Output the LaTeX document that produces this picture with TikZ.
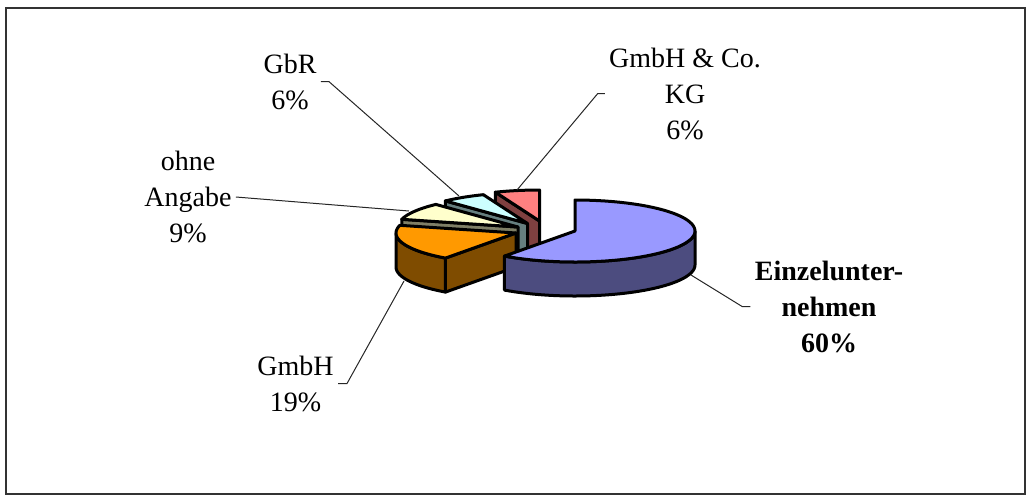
\documentclass[tikz,border=0pt]{standalone}
\usepackage{fontspec}
\setmainfont{Liberation Serif}

\definecolor{einzeltop}{RGB}{153,153,255}
\definecolor{einzelside}{RGB}{76,76,127}
\definecolor{gmbhtop}{RGB}{255,153,0}
\definecolor{gmbhside}{RGB}{127,76,0}
\definecolor{ohnetop}{RGB}{255,255,204}
\definecolor{ohneside}{RGB}{127,127,102}
\definecolor{gbrtop}{RGB}{204,255,255}
\definecolor{gbrside}{RGB}{102,127,127}
\definecolor{kgtop}{RGB}{255,128,128}
\definecolor{kgside}{RGB}{127,64,64}

\begin{document}
\begin{tikzpicture}[x=0.5pt, y=-0.5pt,
    slice/.style={draw=black, line width=1.5pt, line join=round},
    lbl/.style={align=center, inner sep=2pt, font=\fontsize{14}{18}\selectfont},
    leader/.style={draw=black!85, line width=0.5pt}
  ]
  \useasboundingbox (0,0) rectangle (1032,495);
  \draw[line width=0.75pt, black!80] (6,8) rectangle (1025,494);

  % GmbH & Co. KG
  \begin{scope}[shift={(539.5,221)}]
    \filldraw[slice, fill=kgside] (0,0) -- ({120*sin(338.4)},{-31*cos(338.4)}) -- ++(0,34) -- (0,34) -- cycle;
    \filldraw[slice, fill=kgtop] (0,0) -- plot[domain=338.4:360, samples=10] ({120*sin(\x)},{-31*cos(\x)}) -- cycle;
  \end{scope}

  % GbR
  \begin{scope}[shift={(527.5,223.5)}]
    \filldraw[slice, fill=gbrside] (0,0) -- ({120*sin(316.8)},{-31*cos(316.8)}) -- ++(0,34) -- (0,34) -- cycle;
    \filldraw[slice, fill=gbrtop] (0,0) -- plot[domain=316.8:338.4, samples=10] ({120*sin(\x)},{-31*cos(\x)}) -- cycle;
  \end{scope}

  % ohne Angabe
  \begin{scope}[shift={(518,227)}]
    \filldraw[slice, fill=ohneside] (0,0) -- ({120*sin(284.4)},{-31*cos(284.4)}) -- ++(0,34) -- (0,34) -- cycle;
    \filldraw[slice, fill=ohnetop] (0,0) -- plot[domain=284.4:316.8, samples=12] ({120*sin(\x)},{-31*cos(\x)}) -- cycle;
  \end{scope}

  % GmbH
  \begin{scope}[shift={(516,233)}]
    \filldraw[slice, fill=gmbhside] (0,0) -- ({120*sin(216)},{-31*cos(216)}) -- ++(0,34) -- (0,34) -- cycle;
    \filldraw[slice, fill=gmbhside] plot[domain=216:270, samples=20] ({120*sin(\x)},{-31*cos(\x)})
      -- plot[domain=270:216, samples=20] ({120*sin(\x)},{34-31*cos(\x)}) -- cycle;
    \filldraw[slice, fill=gmbhtop] (0,0) -- plot[domain=216:284.4, samples=25] ({120*sin(\x)},{-31*cos(\x)}) -- cycle;
  \end{scope}

  % Einzelunternehmen
  \begin{scope}[shift={(575,231)}]
    \filldraw[slice, fill=einzelside] plot[domain=90:216, samples=40] ({120*sin(\x)},{-31*cos(\x)})
      -- plot[domain=216:90, samples=40] ({120*sin(\x)},{34-31*cos(\x)}) -- cycle;
    \filldraw[slice, fill=einzeltop] (0,0) -- plot[domain=0:216, samples=60] ({120*sin(\x)},{-31*cos(\x)}) -- cycle;
  \end{scope}

  \coordinate (kgpt) at (517,190);
  \coordinate (gbrpt) at (459,196);
  \coordinate (ohnept) at (409,211);
  \coordinate (gmbhpt) at (404,281);
  \coordinate (einzelpt) at (691,275);

  \node[lbl] (gbr) at (290,81.5) {GbR\\6\%};
  \node[lbl] (kg) at (685,93.5) {GmbH \& Co.\\KG\\6\%};
  \node[lbl] (ohne) at (188,197) {ohne\\Angabe\\9\%};
  \node[lbl] (gmbh) at (295.5,383.5) {GmbH\\19\%};
  \node[lbl, font=\fontsize{14}{18}\selectfont\bfseries] (einzel) at (829,306.7) {Einzelunter-\\nehmen\\60\%};

  \draw[leader] (gbr.east) -- ++(8,0) -- (gbrpt);
  \draw[leader] (kg.west) -- ++(-7,0) -- (kgpt);
  \draw[leader] (ohne.east) -- (ohnept);
  \draw[leader] (gmbh.east) -- ++(9,0) -- (gmbhpt);
  \draw[leader] (einzel.west) -- ++(-8,0) -- (einzelpt);
\end{tikzpicture}
\end{document}
